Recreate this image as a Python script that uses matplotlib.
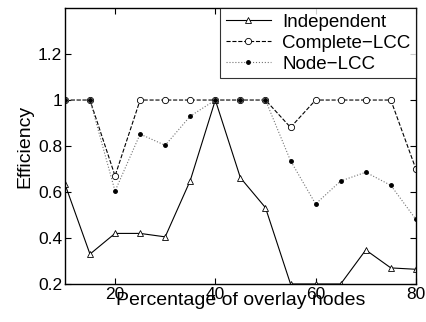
import matplotlib
matplotlib.use("Agg")
import matplotlib.pyplot as plt

plt.rcParams['font.family'] = ['Liberation Sans', 'DejaVu Sans']

pct = [10, 15, 20, 25, 30, 35, 40, 45, 50, 55, 60, 65, 70, 75, 80]
independent = [0.635, 0.33, 0.42, 0.42, 0.405, 0.65, 1.0, 0.662, 0.532, 0.2, 0.2, 0.2, 0.348, 0.27, 0.264]
complete_lcc = [1.0, 1.0, 0.67, 1.0, 1.0, 1.0, 1.0, 1.0, 1.0, 0.881, 1.0, 1.0, 1.0, 1.0, 0.70]
node_lcc = [1.0, 1.0, 0.604, 0.852, 0.803, 0.93, 1.0, 1.0, 1.0, 0.736, 0.548, 0.648, 0.686, 0.629, 0.481]

fig = plt.figure(figsize=(4.27, 3.22), dpi=100)
ax = fig.add_axes([0.152, 0.118, 0.822, 0.857])

ax.plot(pct, independent, "k-", lw=0.8, marker="^", ms=4.5, mfc="white", mew=0.6, label="Independent")
ax.plot(pct, complete_lcc, "k--", lw=0.8, marker="o", ms=4.5, mfc="white", mew=0.6, label="Complete\u2212LCC")
ax.plot(pct, node_lcc, color="0.45", ls=":", lw=0.8, marker="o", ms=2.5, mfc="black", mec="black", label="Node\u2212LCC")

ax.set_xlim(10, 80)
ax.set_ylim(0.2, 1.4)
ax.set_xticks([20, 40, 60, 80])
ax.set_yticks([0.2, 0.4, 0.6, 0.8, 1.0, 1.2])
ax.set_yticklabels(["0.2", "0.4", "0.6", "0.8", "1", "1.2"])
ax.tick_params(direction="in", top=True, right=True, labelsize=12.5, length=4, pad=2)
for s in ax.spines.values():
    s.set_linewidth(1.0)

ax.set_xlabel("Percentage of overlay nodes", fontsize=14, labelpad=-7)
ax.set_ylabel("Efficiency", fontsize=14, labelpad=3)

leg = ax.legend(loc="upper right", fontsize=13.5, frameon=True, fancybox=False,
                edgecolor="black", borderaxespad=0, handlelength=2.4,
                labelspacing=0.2, borderpad=0.3, handletextpad=0.6)
leg.get_frame().set_linewidth(0.8)

fig.savefig("out.png", dpi=100)
